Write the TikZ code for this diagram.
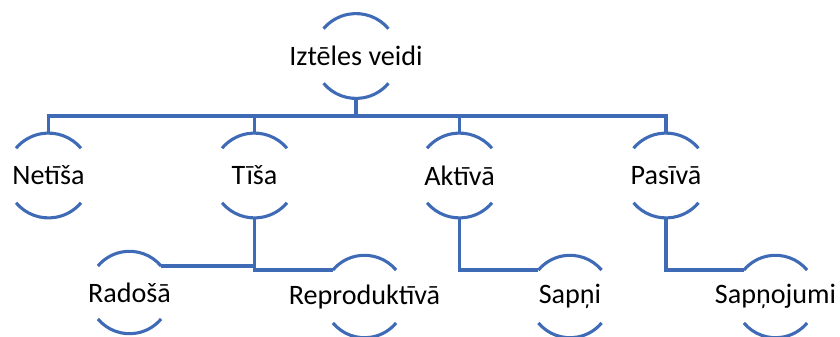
\documentclass[tikz,border=0pt]{standalone}
\usepackage{fontspec}
\setmainfont{Carlito}
\usepackage{tikz}
\usetikzlibrary{calc}

\definecolor{smartblue}{HTML}{3F6AB6}

\begin{document}
\begin{tikzpicture}[x=0.025cm, y=-0.025cm,
        label/.style={inner sep=0pt, font=\fontsize{20}{24}\selectfont},
        ring/.style={draw=smartblue, line width=2.2pt},
        link/.style={draw=smartblue, line width=2.2pt}]
        \useasboundingbox (0,0) rectangle (840,336);

        \node[label] (top) at (356,56) {Iztēles veidi};
        \node[label] (netisa) at (48.5,175.5) {Netīša};
        \node[label] (tisa) at (254.5,175.5) {Tīša};
        \node[label] (aktiva) at (459.5,175.5) {Aktīvā};
        \node[label] (pasiva) at (666,175.5) {Pasīvā};
        \node[label] (radosa) at (129.5,292.5) {Radošā};
        \node[label] (repro) at (364.5,296.5) {Reproduktīvā};
        \node[label] (sapni) at (570,296.5) {Sapņi};
        \node[label] (sapnojumi) at (775.5,296.5) {Sapņojumi};

        % rounded caps above and below each label
        \draw[ring] ($(top)+(40:1.06cm)$) arc (40:140:1.06cm) ($(top)+(220:1.06cm)$) arc (220:320:1.06cm);
        \draw[ring] ($(netisa)+(40:1.06cm)$) arc (40:140:1.06cm) ($(netisa)+(220:1.06cm)$) arc (220:320:1.06cm);
        \draw[ring] ($(tisa)+(40:1.06cm)$) arc (40:140:1.06cm) ($(tisa)+(220:1.06cm)$) arc (220:320:1.06cm);
        \draw[ring] ($(aktiva)+(40:1.06cm)$) arc (40:140:1.06cm) ($(aktiva)+(220:1.06cm)$) arc (220:320:1.06cm);
        \draw[ring] ($(pasiva)+(40:1.06cm)$) arc (40:140:1.06cm) ($(pasiva)+(220:1.06cm)$) arc (220:320:1.06cm);
        \draw[ring] ($(radosa)+(40:1.03cm)$) arc (40:140:1.03cm) ($(radosa)+(220:1.03cm)$) arc (220:320:1.03cm);
        \draw[ring] ($(repro)+(40:1.03cm)$) arc (40:140:1.03cm) ($(repro)+(220:1.03cm)$) arc (220:320:1.03cm);
        \draw[ring] ($(sapni)+(40:1.03cm)$) arc (40:140:1.03cm) ($(sapni)+(220:1.03cm)$) arc (220:320:1.03cm);
        \draw[ring] ($(sapnojumi)+(40:1.03cm)$) arc (40:140:1.03cm) ($(sapnojumi)+(220:1.03cm)$) arc (220:320:1.03cm);

        \coordinate (bar) at (356,116);
        \coordinate (topend) at ($(top)+(0,42.5)$);
        \draw[link] (topend) -- (bar);
        \draw[link] (bar) -| ($(netisa)+(0,-42.5)$);
        \draw[link] (bar) -| ($(tisa)+(0,-42.5)$);
        \draw[link] (bar) -| ($(aktiva)+(0,-42.5)$);
        \draw[link] (bar) -| ($(pasiva)+(0,-42.5)$);

        \draw[link] ($(tisa)+(0,42.5)$) |- ($(radosa)+(40:1.03cm)$);
        \draw[link] ($(tisa)+(0,42.5)$) |- ($(repro)+(140:1.03cm)$);
        \draw[link] ($(aktiva)+(0,42.5)$) |- ($(sapni)+(140:1.03cm)$);
        \draw[link] ($(pasiva)+(0,42.5)$) |- ($(sapnojumi)+(140:1.03cm)$);
    \end{tikzpicture}
\end{document}
